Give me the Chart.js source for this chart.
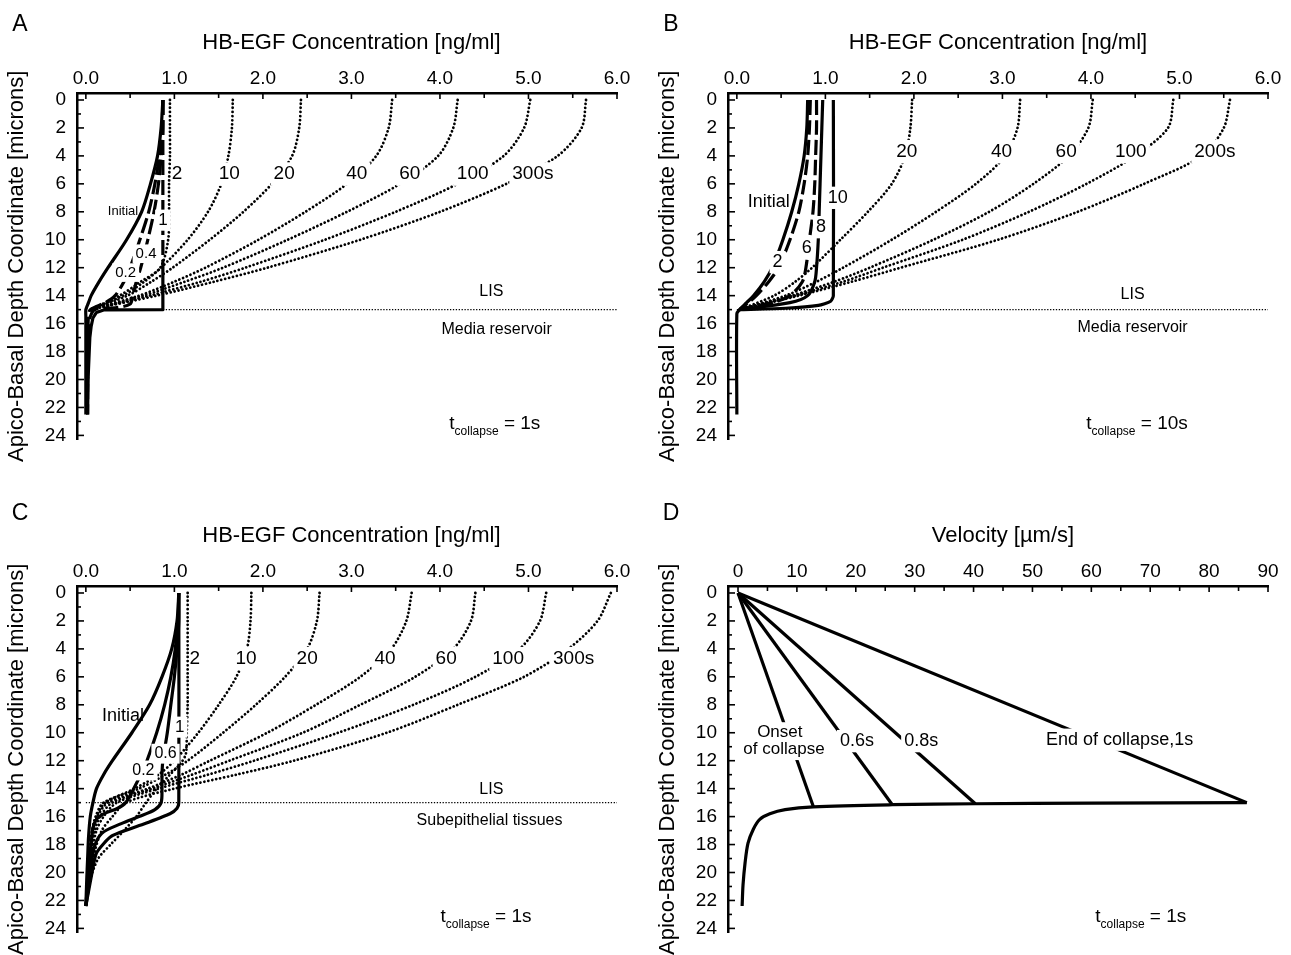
<!DOCTYPE html>
<html>
<head>
<meta charset="utf-8">
<title>HB-EGF profiles</title>
<script src="https://cdn.jsdelivr.net/npm/chart.js@4.4.1/dist/chart.umd.min.js"></script>
<style>
  html, body { margin: 0; padding: 0; background: #fff; overflow: hidden; }
  .panel { position: absolute; width: 640px; height: 462px; }
</style>
</head>
<body>
<div class="panel" style="left:0;top:0"><canvas id="panelA" width="640" height="462"></canvas></div>
<div class="panel" style="left:651px;top:0"><canvas id="panelB" width="640" height="462"></canvas></div>
<div class="panel" style="left:0;top:493px"><canvas id="panelC" width="640" height="462"></canvas></div>
<div class="panel" style="left:651px;top:493px"><canvas id="panelD" width="640" height="462"></canvas></div>
<script>
const FONT = '"Liberation Sans", Arial, Helvetica, sans-serif';

// axis ticks
const concLabels = [0, 1, 2, 3, 4, 5, 6];
const concMinor = [0.5, 1.5, 2.5, 3.5, 4.5, 5.5];
const depthLabels = [0, 2, 4, 6, 8, 10, 12, 14, 16, 18, 20, 22, 24];
const depthMinor = [1, 3, 5, 7, 9, 11, 13, 15, 17, 19, 21, 23];
const velLabels = [0, 10, 20, 30, 40, 50, 60, 70, 80, 90];
const velMinor = [5, 15, 25, 35, 45, 55, 65, 75, 85];
const lisDepth = [15, 15];

// ---- A : t_collapse = 1 s, media reservoir ----
const aDepth = [0, 2, 4, 6, 8, 10, 12, 13, 14, 14.5, 15, 15.5, 16, 17, 18.5, 20, 22.5];
const aInitial = [0.87, 0.85, 0.81, 0.73, 0.63, 0.46, 0.25, 0.15, 0.06, 0.03, 0.0, 0.0, 0.0, 0.0, 0.0, 0.0, 0.0];
const aT02 = [0.87, 0.86, 0.83, 0.78, 0.71, 0.61, 0.5, 0.43, 0.33, 0.22, 0.05, 0.03, 0.025, 0.02, 0.02, 0.02, 0.015];
const aDepth04 = [0, 2, 4, 6, 8, 10, 12, 13, 14, 14.6, 14.85, 15, 15.5, 16, 17, 18.5, 20, 22.5];
const aT04 = [0.87, 0.87, 0.85, 0.82, 0.77, 0.7, 0.62, 0.57, 0.53, 0.5, 0.35, 0.1, 0.05, 0.035, 0.03, 0.025, 0.02, 0.02];
const aDepth1Top = [0, 11.5];
const aT1Top = [0.87, 0.87];
const aDepth1Box = [11.5, 15, 15.02, 15.2, 15.6, 16.2, 17, 18.5, 20, 22.5];
const aT1Box = [0.87, 0.87, 0.2, 0.12, 0.08, 0.06, 0.045, 0.035, 0.025, 0.02];
const aDotDepth = [0, 2, 4, 6, 8, 10, 12, 13, 14, 15];
const aDot2 = [0.95, 0.95, 0.95, 0.94, 0.94, 0.93, 0.84, 0.62, 0.38, 0.05];
const aDot10 = [1.66, 1.65, 1.61, 1.53, 1.38, 1.15, 0.85, 0.66, 0.42, 0.05];
const aDot20 = [2.43, 2.41, 2.33, 2.1, 1.78, 1.4, 0.98, 0.74, 0.47, 0.05];
const aDot40 = [3.46, 3.42, 3.28, 2.95, 2.48, 1.95, 1.35, 1.0, 0.6, 0.05];
const aDot60 = [4.2, 4.15, 3.98, 3.55, 2.95, 2.28, 1.55, 1.12, 0.65, 0.05];
const aDot100 = [5.02, 4.95, 4.72, 4.2, 3.5, 2.7, 1.8, 1.3, 0.72, 0.05];
const aDot300 = [5.65, 5.6, 5.33, 4.75, 4.0, 3.1, 2.05, 1.45, 0.8, 0.05];
const aLis = [0.87, 6.0];

// ---- B : t_collapse = 10 s, media reservoir ----
const bDepth = [0, 2, 4, 6, 8, 10, 12, 13, 14, 14.5, 15];
const bInitialDepth = [0, 2, 4, 6, 8, 10, 12, 13, 14, 14.5, 15, 15.3, 22.5];
const bInitial = [0.8, 0.79, 0.76, 0.7, 0.62, 0.52, 0.4, 0.31, 0.19, 0.11, 0.03, 0.0, 0.0];
const bT2 = [0.83, 0.82, 0.8, 0.76, 0.7, 0.6, 0.47, 0.36, 0.22, 0.13, 0.03];
const bT6 = [0.9, 0.9, 0.89, 0.88, 0.86, 0.82, 0.78, 0.74, 0.6, 0.4, 0.03];
const bT8 = [0.97, 0.96, 0.95, 0.94, 0.93, 0.92, 0.9, 0.88, 0.8, 0.6, 0.03];
const bDepth10 = [0, 14, 14.4, 14.7, 14.9, 15];
const bT10 = [1.09, 1.09, 1.06, 0.92, 0.55, 0.03];
const bDotDepth = [0, 2, 4, 6, 8, 10, 12, 13, 14, 15];
const bDot20 = [1.98, 1.96, 1.9, 1.75, 1.48, 1.17, 0.85, 0.66, 0.42, 0.03];
const bDot40 = [3.2, 3.17, 3.03, 2.7, 2.25, 1.75, 1.2, 0.9, 0.55, 0.03];
const bDot60 = [4.02, 3.97, 3.75, 3.35, 2.85, 2.22, 1.5, 1.1, 0.62, 0.03];
const bDot100 = [4.93, 4.87, 4.5, 3.95, 3.3, 2.55, 1.65, 1.2, 0.66, 0.03];
const bDot200 = [5.57, 5.5, 5.25, 4.6, 3.85, 2.95, 1.85, 1.3, 0.7, 0.03];
const bLis = [0.0, 6.0];

// ---- C : t_collapse = 1 s, subepithelial tissues ----
const cInitialDepth = [0, 2, 4, 6, 8, 10, 12, 13, 14, 15, 16, 17.5, 19, 20.5, 22.4];
const cInitial = [1.05, 1.03, 0.97, 0.86, 0.72, 0.52, 0.3, 0.2, 0.12, 0.08, 0.05, 0.03, 0.02, 0.01, 0.0];
const cDepth02 = [0, 2, 4, 6, 8, 10, 12, 13, 14, 15, 15.4, 15.8, 16.2, 16.8, 18, 20, 22.4];
const cT02 = [1.05, 1.04, 1.01, 0.96, 0.89, 0.8, 0.69, 0.62, 0.54, 0.45, 0.36, 0.2, 0.12, 0.08, 0.06, 0.03, 0.0];
const cDepth06 = [0, 2, 4, 6, 8, 10, 12, 13, 14, 15, 15.5, 16, 16.5, 17.2, 18.3, 20.2, 22.4];
const cT06 = [1.05, 1.05, 1.03, 1.0, 0.96, 0.92, 0.87, 0.86, 0.86, 0.85, 0.78, 0.6, 0.4, 0.18, 0.09, 0.05, 0.0];
const cDepth1 = [0, 15, 15.4, 15.8, 16.5, 17.4, 18.6, 20, 22.4];
const cT1 = [1.05, 1.05, 1.03, 0.95, 0.67, 0.29, 0.12, 0.07, 0.0];
const cDepth2 = [0, 2, 4, 6, 8, 10, 11.5, 12.2, 13, 14, 15, 16, 17, 18, 19, 20.5, 22.4];
const cDot2 = [1.15, 1.15, 1.15, 1.15, 1.15, 1.14, 1.13, 1.07, 0.95, 0.8, 0.68, 0.57, 0.43, 0.28, 0.14, 0.05, 0.0];
const cDotDepth = [0, 2, 4, 6, 8, 10, 12, 13, 14, 15, 16, 17, 18.5, 20.5, 22.4];
const cDot10 = [1.87, 1.86, 1.82, 1.7, 1.5, 1.27, 1.0, 0.82, 0.55, 0.22, 0.12, 0.08, 0.05, 0.02, 0.0];
const cDot20 = [2.64, 2.61, 2.5, 2.25, 1.92, 1.55, 1.15, 0.9, 0.6, 0.2, 0.11, 0.07, 0.04, 0.02, 0.0];
const cDot40 = [3.68, 3.62, 3.45, 3.1, 2.6, 2.05, 1.4, 1.08, 0.7, 0.25, 0.13, 0.08, 0.05, 0.02, 0.0];
const cDot60 = [4.4, 4.35, 4.15, 3.72, 3.1, 2.45, 1.62, 1.2, 0.75, 0.3, 0.16, 0.1, 0.06, 0.02, 0.0];
const cDot100 = [5.2, 5.13, 4.9, 4.4, 3.7, 2.85, 1.9, 1.38, 0.82, 0.35, 0.2, 0.12, 0.07, 0.03, 0.0];
const cDot300 = [5.93, 5.78, 5.45, 4.95, 4.2, 3.4, 2.35, 1.7, 1.0, 0.45, 0.3, 0.18, 0.1, 0.04, 0.0];
const cLis = [0.0, 6.0];

// ---- D : velocity profiles ----
const dProfileDepth = [15.0, 15.04, 15.08, 15.15, 15.3, 15.5, 15.8, 16.2, 16.9, 17.9, 19.3, 20.9, 22.4];
const dProfileVel = [86.4, 60, 40.3, 26.2, 12.8, 8, 5.4, 3.7, 2.6, 1.7, 1.2, 0.85, 0.7];
const rayDepth = [0, 15.3, 0, 15.15, 0, 15.08, 0, 15.0];
const rayVel = [0, 12.8, 0, 26.2, 0, 40.3, 0, 86.4];

// line styles
const SOLID = { borderWidth: 3.2, borderDash: [] };
const DASHED = { borderWidth: 3.2, borderDash: [15, 5] };
const DOTTED = { borderWidth: 2.8, borderDash: [0.01, 4.0], borderCapStyle: 'round' };
const FINE = { borderWidth: 1.3, borderDash: [1.3, 1.6] };

const zip = (xs, ys) => xs.map((x, i) => ({ x: x, y: ys[i] }));

function line(xs, ys, style, tension) {
  return Object.assign({
    data: zip(xs, ys),
    showLine: true,
    pointRadius: 0,
    borderColor: '#000',
    backgroundColor: '#000',
    fill: false,
    tension: tension === undefined ? 0.3 : tension,
    borderJoinStyle: 'round'
  }, style);
}

function axes(xMin, xMax, xLabels, fmt) {
  const tickFont = { family: FONT, size: 19 };
  return {
    x: {
      type: 'linear', position: 'top', min: xMin, max: xMax,
      afterBuildTicks: s => { s.ticks = xLabels.map(v => ({ value: v })); },
      afterFit: s => { s.height = 93; },
      ticks: { autoSkip: false, maxRotation: 0, padding: 3, color: '#000', font: tickFont, callback: v => fmt(v) },
      grid: { drawOnChartArea: false, drawTicks: false },
      border: { color: '#000', width: 2.5 }
    },
    y: {
      type: 'linear', reverse: true, min: -0.5, max: 24.3,
      afterBuildTicks: s => { s.ticks = depthLabels.map(v => ({ value: v })); },
      afterFit: s => { s.width = 77; },
      ticks: { autoSkip: false, padding: 11, color: '#000', font: tickFont },
      grid: { drawOnChartArea: false, drawTicks: false },
      border: { color: '#000', width: 2.5 }
    }
  };
}

function decor(p) {
  return {
    id: 'decor' + p.letter,
    afterDatasetsDraw(chart) {
      const { ctx, scales: { x, y } } = chart;
      ctx.save();
      ctx.textAlign = 'center';
      ctx.textBaseline = 'middle';
      p.labels.forEach(l => {
        const px = x.getPixelForValue(l.x), py = y.getPixelForValue(l.y);
        ctx.font = l.s + 'px ' + FONT;
        if (l.gap) {
          const w = ctx.measureText(l.t).width;
          ctx.fillStyle = '#fff';
          ctx.fillRect(px - w / 2 - 3, py - l.s * 0.62, w + 6, l.s * 1.24);
        }
        ctx.fillStyle = '#000';
        ctx.fillText(l.t, px, py);
      });
      // t_collapse = ...
      const px = x.getPixelForValue(p.tc.x), py = y.getPixelForValue(p.tc.y);
      ctx.font = '19px ' + FONT;
      const wt = ctx.measureText('t').width, wr = ctx.measureText(' = ' + p.tc.v).width;
      ctx.font = '12px ' + FONT;
      const ws = ctx.measureText('collapse').width;
      const left = px - (wt + ws + wr) / 2;
      ctx.textAlign = 'left';
      ctx.font = '19px ' + FONT;
      ctx.fillText('t', left, py);
      ctx.fillText(' = ' + p.tc.v, left + wt + ws, py);
      ctx.font = '12px ' + FONT;
      ctx.fillText('collapse', left + wt, py + 7);
      ctx.restore();
    },
    afterDraw(chart) {
      const { ctx, chartArea: a, scales: { x, y } } = chart;
      ctx.save();
      ctx.strokeStyle = '#000';
      ctx.lineWidth = 1.6;
      const tick = (px, py, dx, dy) => {
        ctx.beginPath(); ctx.moveTo(px, py); ctx.lineTo(px + dx, py + dy); ctx.stroke();
      };
      p.xMajor.forEach(v => tick(x.getPixelForValue(v), a.top, 0, 6));
      p.xMinor.forEach(v => tick(x.getPixelForValue(v), a.top, 0, 5));
      depthLabels.forEach(v => tick(a.left, y.getPixelForValue(v), 7, 0));
      depthMinor.forEach(v => tick(a.left, y.getPixelForValue(v), 4, 0));

      ctx.fillStyle = '#000';
      ctx.textAlign = 'center';
      ctx.textBaseline = 'middle';
      ctx.font = '22px ' + FONT;
      ctx.fillText(p.xTitle, x.getPixelForValue(p.xTitleAt), 43);
      ctx.save();
      ctx.translate(17, (a.top + a.bottom) / 2);
      ctx.rotate(-Math.PI / 2);
      ctx.fillText('Apico-Basal Depth Coordinate [microns]', 0, 0);
      ctx.restore();
      ctx.font = '23px ' + FONT;
      ctx.fillText(p.letter, 20, p.letterY);
      ctx.restore();
    }
  };
}

function panel(id, p, datasets) {
  new Chart(document.getElementById(id), {
    type: 'scatter',
    data: { datasets: datasets },
    options: {
      responsive: false,
      animation: false,
      events: [],
      layout: { padding: { left: 0, top: 0, right: 23, bottom: 12 } },
      plugins: { legend: { display: false }, tooltip: { enabled: false } },
      scales: axes(p.xMin, p.xMax, p.xMajor, p.fmt)
    },
    plugins: [decor(p)]
  });
}

const conc = v => v.toFixed(1);
const concTitle = 'HB-EGF Concentration [ng/ml]';

panel('panelA', {
  letter: 'A', letterY: 25, xMin: -0.1, xMax: 6, xMajor: concLabels, xMinor: concMinor, fmt: conc,
  xTitle: concTitle, xTitleAt: 3.0,
  tc: { v: '1s', x: 4.62, y: 23.2 },
  labels: [
    { t: 'Initial', x: 0.42, y: 8.0, s: 13 },
    { t: '1', x: 0.87, y: 8.6, s: 17, gap: true },
    { t: '0.4', x: 0.68, y: 11.0, s: 15, gap: true },
    { t: '0.2', x: 0.45, y: 12.35, s: 15, gap: true },
    { t: '2', x: 1.03, y: 5.3, s: 19 },
    { t: '10', x: 1.62, y: 5.3, s: 19, gap: true },
    { t: '20', x: 2.24, y: 5.3, s: 19, gap: true },
    { t: '40', x: 3.06, y: 5.3, s: 19, gap: true },
    { t: '60', x: 3.66, y: 5.3, s: 19, gap: true },
    { t: '100', x: 4.37, y: 5.3, s: 19, gap: true },
    { t: '300s', x: 5.05, y: 5.3, s: 19, gap: true },
    { t: 'LIS', x: 4.58, y: 13.7, s: 16 },
    { t: 'Media reservoir', x: 4.64, y: 16.4, s: 16 }
  ]
}, [
  line(aDot2, aDotDepth, DOTTED),
  line(aDot10, aDotDepth, DOTTED),
  line(aDot20, aDotDepth, DOTTED),
  line(aDot40, aDotDepth, DOTTED),
  line(aDot60, aDotDepth, DOTTED),
  line(aDot100, aDotDepth, DOTTED),
  line(aDot300, aDotDepth, DOTTED),
  line(aLis, lisDepth, FINE, 0),
  line(aInitial, aDepth, SOLID),
  line(aT02, aDepth, DASHED),
  line(aT04, aDepth04, DASHED),
  line(aT1Top, aDepth1Top, DASHED, 0),
  line(aT1Box, aDepth1Box, SOLID, 0)
]);

panel('panelB', {
  letter: 'B', letterY: 25, xMin: -0.1, xMax: 6, xMajor: concLabels, xMinor: concMinor, fmt: conc,
  xTitle: concTitle, xTitleAt: 2.95,
  tc: { v: '10s', x: 4.52, y: 23.2 },
  labels: [
    { t: 'Initial', x: 0.36, y: 7.3, s: 18 },
    { t: '2', x: 0.46, y: 11.6, s: 18, gap: true },
    { t: '6', x: 0.79, y: 10.6, s: 18, gap: true },
    { t: '8', x: 0.95, y: 9.1, s: 18, gap: true },
    { t: '10', x: 1.14, y: 7.0, s: 18, gap: true },
    { t: '20', x: 1.92, y: 3.7, s: 19, gap: true },
    { t: '40', x: 2.99, y: 3.7, s: 19, gap: true },
    { t: '60', x: 3.72, y: 3.7, s: 19, gap: true },
    { t: '100', x: 4.45, y: 3.7, s: 19, gap: true },
    { t: '200s', x: 5.4, y: 3.7, s: 19, gap: true },
    { t: 'LIS', x: 4.47, y: 13.9, s: 16 },
    { t: 'Media reservoir', x: 4.47, y: 16.3, s: 16 }
  ]
}, [
  line(bDot20, bDotDepth, DOTTED),
  line(bDot40, bDotDepth, DOTTED),
  line(bDot60, bDotDepth, DOTTED),
  line(bDot100, bDotDepth, DOTTED),
  line(bDot200, bDotDepth, DOTTED),
  line(bLis, lisDepth, FINE, 0),
  line(bInitial, bInitialDepth, SOLID),
  line(bT2, bDepth, DASHED),
  line(bT6, bDepth, DASHED),
  line(bT8, bDepth, SOLID),
  line(bT10, bDepth10, SOLID, 0.2)
]);

panel('panelC', {
  letter: 'C', letterY: 21, xMin: -0.1, xMax: 6, xMajor: concLabels, xMinor: concMinor, fmt: conc,
  xTitle: concTitle, xTitleAt: 3.0,
  tc: { v: '1s', x: 4.52, y: 23.2 },
  labels: [
    { t: 'Initial', x: 0.42, y: 8.8, s: 18 },
    { t: '1', x: 1.06, y: 9.6, s: 17, gap: true },
    { t: '0.6', x: 0.9, y: 11.5, s: 16, gap: true },
    { t: '0.2', x: 0.65, y: 12.7, s: 16, gap: true },
    { t: '2', x: 1.23, y: 4.7, s: 19 },
    { t: '10', x: 1.81, y: 4.7, s: 19, gap: true },
    { t: '20', x: 2.5, y: 4.7, s: 19, gap: true },
    { t: '40', x: 3.38, y: 4.7, s: 19, gap: true },
    { t: '60', x: 4.07, y: 4.7, s: 19, gap: true },
    { t: '100', x: 4.77, y: 4.7, s: 19, gap: true },
    { t: '300s', x: 5.51, y: 4.7, s: 19, gap: true },
    { t: 'LIS', x: 4.58, y: 14.1, s: 16 },
    { t: 'Subepithelial tissues', x: 4.56, y: 16.3, s: 16 }
  ]
}, [
  line(cDot2, cDepth2, DOTTED),
  line(cDot10, cDotDepth, DOTTED),
  line(cDot20, cDotDepth, DOTTED),
  line(cDot40, cDotDepth, DOTTED),
  line(cDot60, cDotDepth, DOTTED),
  line(cDot100, cDotDepth, DOTTED),
  line(cDot300, cDotDepth, DOTTED),
  line(cLis, lisDepth, FINE, 0),
  line(cInitial, cInitialDepth, SOLID),
  line(cT02, cDepth02, SOLID),
  line(cT06, cDepth06, SOLID),
  line(cT1, cDepth1, SOLID, 0.2)
]);

const rays = [0, 2, 4, 6].map(i => line(rayVel.slice(i, i + 2), rayDepth.slice(i, i + 2), SOLID, 0));

panel('panelD', {
  letter: 'D', letterY: 21, xMin: -1.7, xMax: 90, xMajor: velLabels, xMinor: velMinor, fmt: v => String(v),
  xTitle: 'Velocity [\u00b5m/s]', xTitleAt: 45,
  tc: { v: '1s', x: 68.4, y: 23.2 },
  labels: [
    { t: 'Onset', x: 7.1, y: 10.0, s: 17, gap: true },
    { t: 'of collapse', x: 7.8, y: 11.2, s: 17, gap: true },
    { t: '0.6s', x: 20.2, y: 10.6, s: 18, gap: true },
    { t: '0.8s', x: 31.1, y: 10.6, s: 18, gap: true },
    { t: 'End of collapse,1s', x: 64.8, y: 10.5, s: 18, gap: true }
  ]
}, rays.concat([line(dProfileVel, dProfileDepth, SOLID, 0.3)]));
</script>
</body>
</html>
